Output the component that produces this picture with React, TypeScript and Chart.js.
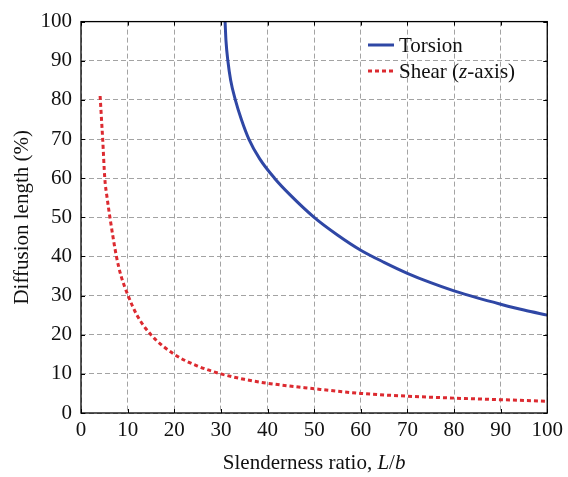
import React, { useEffect, useRef } from "react";
import { Chart, registerables } from "chart.js";

Chart.register(...registerables);

// Slenderness ratio L/b (x) against diffusion length in % (y)
const torsionX = [30.9, 31.1, 31.5, 32.1, 33.1, 34.4, 36.0, 38.3, 41.5, 44.8, 50, 55, 60, 65, 70, 75, 80, 85, 90, 95, 100];
const torsionY = [100, 95, 90, 85, 80, 75, 70, 65, 60, 55.8, 50, 45.5, 41.6, 38.5, 35.7, 33.3, 31.2, 29.4, 27.8, 26.3, 25];

const shearX = [4.1, 4.4, 4.65, 5.1, 5.6, 6.2, 7.6, 8.6, 10.1, 12, 15, 20, 25, 30, 35, 40, 50, 60, 70, 80, 90, 100];
const shearY = [81, 75, 70, 60, 55, 50, 40, 35, 30, 25, 20, 15, 12, 10, 8.6, 7.6, 6.2, 5.0, 4.3, 3.8, 3.4, 3.0];

const xTicks = [0, 10, 20, 30, 40, 50, 60, 70, 80, 90, 100];
const yTicks = [0, 10, 20, 30, 40, 50, 60, 70, 80, 90, 100];

const FONT = "'Liberation Serif', 'DejaVu Serif', serif";
const BLUE = "#2f47a5";
const RED = "#dc2a30";

const toPoints = (xs: number[], ys: number[]) => xs.map((x, i) => ({ x, y: ys[i] }));

const frameAndLabels = {
  id: "frameAndLabels",
  afterDraw(chart: any) {
    const { ctx, chartArea } = chart;
    const { left, right, top, bottom } = chartArea;
    const xs = chart.scales.x;
    const ys = chart.scales.y;
    ctx.save();

    // inward tick marks on all four sides
    ctx.strokeStyle = "#000";
    ctx.lineWidth = 1;
    ctx.setLineDash([]);
    const tl = 4;
    ctx.beginPath();
    xTicks.forEach((v) => {
      const px = Math.round(xs.getPixelForValue(v)) + 0.5;
      ctx.moveTo(px, bottom);
      ctx.lineTo(px, bottom - tl);
      ctx.moveTo(px, top);
      ctx.lineTo(px, top + tl);
    });
    yTicks.forEach((v) => {
      const py = Math.round(ys.getPixelForValue(v)) + 0.5;
      ctx.moveTo(left, py);
      ctx.lineTo(left + tl, py);
      ctx.moveTo(right, py);
      ctx.lineTo(right - tl, py);
    });
    ctx.stroke();

    // axis frame
    ctx.lineWidth = 1.3;
    ctx.strokeRect(left, top, right - left, bottom - top);

    // x-axis title with italic L/b
    ctx.fillStyle = "#111";
    ctx.textBaseline = "alphabetic";
    ctx.textAlign = "left";
    const parts: [string, boolean][] = [
      ["Slenderness ratio, ", false],
      ["L", true],
      ["/", false],
      ["b", true],
    ];
    const fontFor = (it: boolean) => `${it ? "italic " : ""}21px ${FONT}`;
    let total = 0;
    parts.forEach(([t, it]) => {
      ctx.font = fontFor(it);
      total += ctx.measureText(t).width;
    });
    let cx = (left + right) / 2 - total / 2;
    parts.forEach(([t, it]) => {
      ctx.font = fontFor(it);
      ctx.fillText(t, cx, 469);
      cx += ctx.measureText(t).width;
    });

    // y-axis title, rotated
    ctx.save();
    ctx.translate(28, (top + bottom) / 2);
    ctx.rotate(-Math.PI / 2);
    ctx.font = `21px ${FONT}`;
    ctx.textAlign = "center";
    ctx.fillText("Diffusion length (%)", 0, 0);
    ctx.restore();

    // legend
    const lx0 = 368;
    const lx1 = 394;
    const tx = 399;
    const rows = [
      { y: 45, color: BLUE, dash: [] as number[], parts: [["Torsion", false]] as [string, boolean][] },
      {
        y: 71,
        color: RED,
        dash: [4, 3],
        parts: [
          ["Shear (", false],
          ["z", true],
          ["-axis)", false],
        ] as [string, boolean][],
      },
    ];
    rows.forEach((r) => {
      ctx.strokeStyle = r.color;
      ctx.lineWidth = 3;
      ctx.setLineDash(r.dash);
      ctx.beginPath();
      ctx.moveTo(lx0, r.y);
      ctx.lineTo(lx1, r.y);
      ctx.stroke();
      ctx.setLineDash([]);
      ctx.textBaseline = "middle";
      ctx.textAlign = "left";
      ctx.fillStyle = "#111";
      let x = tx;
      r.parts.forEach(([t, it]) => {
        ctx.font = fontFor(it);
        ctx.fillText(t, x, r.y + 1);
        x += ctx.measureText(t).width;
      });
    });

    ctx.restore();
  },
};

export default function App() {
  const canvasRef = useRef<HTMLCanvasElement | null>(null);

  useEffect(() => {
    document.body.style.margin = "0";
    const canvas = canvasRef.current;
    if (!canvas) return;

    const gridCommon = {
      color: "#a3a3a3",
      lineWidth: 1,
      drawTicks: false,
    };

    const chart = new Chart(canvas, {
      type: "line",
      data: {
        datasets: [
          {
            label: "Torsion",
            data: toPoints(torsionX, torsionY),
            borderColor: BLUE,
            borderWidth: 3,
            pointRadius: 0,
            cubicInterpolationMode: "monotone",
            fill: false,
          },
          {
            label: "Shear (z-axis)",
            data: toPoints(shearX, shearY),
            borderColor: RED,
            borderWidth: 3,
            borderDash: [4, 3],
            pointRadius: 0,
            cubicInterpolationMode: "monotone",
            fill: false,
          },
        ],
      },
      options: {
        animation: false,
        responsive: false,
        devicePixelRatio: 1,
        layout: { padding: { top: 16, right: 20, left: 0, bottom: 0 } },
        plugins: {
          legend: { display: false },
          tooltip: { enabled: false },
        },
        scales: {
          x: {
            type: "linear",
            min: 0,
            max: 100,
            afterBuildTicks: (s: any) => {
              s.ticks = xTicks.map((v) => ({ value: v }));
            },
            afterFit: (s: any) => {
              s.height = 64;
            },
            grid: { ...gridCommon } as any,
            border: { display: false, dash: [5, 3] },
            ticks: {
              padding: 5,
              color: "#111",
              font: { family: FONT, size: 21 },
              maxRotation: 0,
            },
          },
          y: {
            type: "linear",
            min: 0,
            max: 100,
            afterBuildTicks: (s: any) => {
              s.ticks = yTicks.map((v) => ({ value: v }));
            },
            afterFit: (s: any) => {
              s.width = 81;
            },
            grid: { ...gridCommon } as any,
            border: { display: false, dash: [5, 3] },
            ticks: {
              padding: 9,
              color: "#111",
              font: { family: FONT, size: 21 },
            },
          },
        },
      },
      plugins: [frameAndLabels],
    } as any);

    return () => chart.destroy();
  }, []);

  return (
    <div style={{ width: 568, height: 477, background: "#fff" }}>
      <canvas ref={canvasRef} width={568} height={477} style={{ display: "block" }} />
    </div>
  );
}
